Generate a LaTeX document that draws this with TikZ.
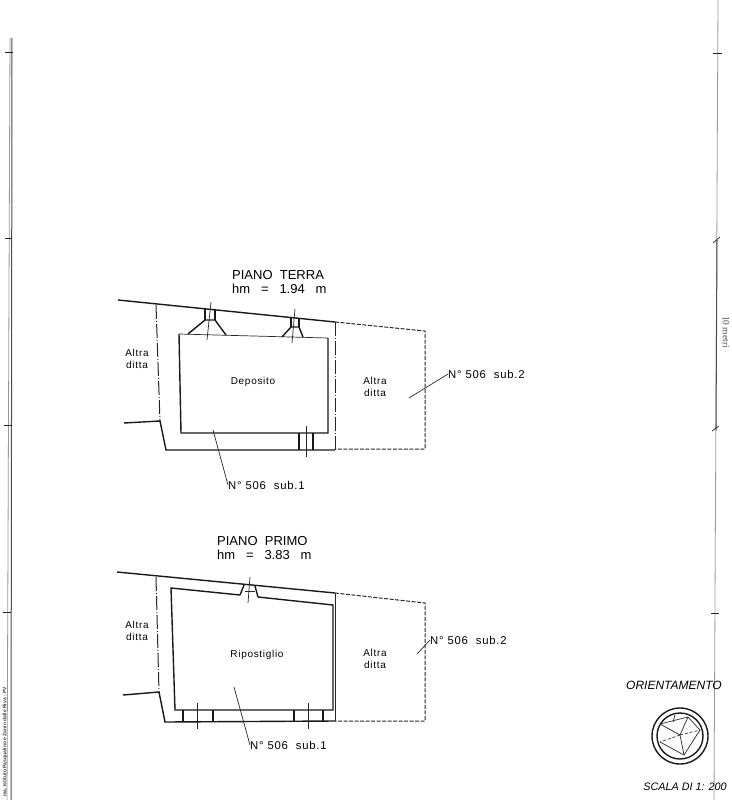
\documentclass[tikz,border=0pt]{standalone}
\usepackage{fontspec}
\setmainfont{Liberation Sans}
\newfontfamily\planfont[LetterSpace=7]{Liberation Sans}
\newfontfamily\metrifont{Liberation Serif}
\tikzset{
  wall/.style={line width=1.4pt,black!90},
  thin/.style={line width=0.7pt,black!85},
  dashdot/.style={line width=1pt,black!85,dash pattern=on 14pt off 2pt on 1pt off 2pt},
  limit/.style={line width=1pt,black!85,dash pattern=on 4pt off 1.5pt},
  sheet/.style={line width=1pt,black!70},
  sheetpale/.style={line width=0.8pt,black!40},
  lbl/.style={font=\planfont\fontsize{10pt}{11.5pt}\selectfont,align=center,inner sep=0pt},
  num/.style={font=\planfont\fontsize{11.3pt}{12pt}\selectfont,inner sep=0pt,anchor=west},
  title/.style={font=\fontsize{13pt}{13pt}\selectfont,inner sep=0pt,anchor=west},
  side/.style={font=\itshape\fontsize{12pt}{12pt}\selectfont,inner sep=0pt}
}
\begin{document}
\begin{tikzpicture}[x=1pt,y=-1pt]
  \useasboundingbox (0,0) rectangle (731,800);

  % sheet edges
  \draw[sheet] (12,38) -- (11,800);
  \draw[sheetpale] (10,38) -- (7,800);
  \draw[thin] (5,52) -- (13,52);
  \draw[thin] (5,238) -- (12,238);
  \draw[thin] (4,425) -- (12,425);
  \draw[thin] (3,612) -- (11,612);
  \draw[sheetpale] (718,0) -- (714,800);
  \draw[sheet] (717,240) -- (716,430);
  \draw[thin] (713,53) -- (722,53);
  \draw[thin] (713,243) -- (720,237);
  \draw[thin] (712,431) -- (719,426);
  \draw[thin] (711,613) -- (719,613);

  % piano terra
  \node[title] at (232,275) {PIANO\ \ TERRA};
  \node[title] at (232,289) {hm\ \ \ =\ \ \ 1.94\ \ \ m};
  \draw[wall] (118,300) -- (335,322);
  \draw[limit] (335,322) -- (425,331) -- (425,449) -- (335,449);
  \draw[dashdot] (156,305) -- (160,422);
  \draw[dashdot] (335,322) -- (335,450);
  \draw[wall] (124,423) -- (160,421) -- (166,450) -- (335,450);
  \draw[wall] (179,334) -- (181,433) -- (328,433) -- (328,338);
  \draw[thin] (179,334) -- (328,338);
  % windows
  \draw[wall] (188,334) -- (205,320) -- (215,320) -- (226,335);
  \draw[wall] (205,309) -- (205,320) (215,310) -- (215,320);
  \draw[thin] (211,302) -- (207,340);
  \draw[wall] (282,337) -- (291,327) -- (299,327) -- (303,337);
  \draw[wall] (291,317) -- (291,327) (299,318) -- (299,327);
  \draw[thin] (295,309) -- (292,343);
  % door
  \draw[wall] (299,433) -- (299,450) (313,433) -- (313,450);
  \draw[thin] (306,426) -- (306,457);
  \node[lbl] at (137,359) {Altra\\ditta};
  \node[lbl] at (253,382) {Deposito};
  \node[lbl] at (375,387) {Altra\\ditta};
  \node[num] (subA) at (228,485) {N° 506\ \ sub.1};
  \node[num] (subB) at (448,374) {N° 506\ \ sub.2};
  \coordinate (subAend) at (213,430);
  \coordinate (subBend) at (409,398);
  \draw[thin] (subAend) -- (subA.west);
  \draw[thin] (subBend) -- (subB.west);

  % piano primo
  \node[title] at (217,541) {PIANO\ \ PRIMO};
  \node[title] at (217,555) {hm\ \ \ =\ \ \ 3.83\ \ \ m};
  \draw[wall] (117,572) -- (335,593);
  \draw[limit] (335,593) -- (425,603) -- (425,721) -- (335,721);
  \draw[dashdot] (156,577) -- (159,692);
  \draw[wall] (123,695) -- (159,692) -- (165,722) -- (335,721);
  \draw[thin] (335,593) -- (335,721);
  \draw[wall] (240,595) -- (171,588) -- (175,710) -- (333,710) -- (333,605) -- (258,597);
  \draw[wall] (244,585) -- (240,595) (255,586) -- (258,597);
  \draw[thin] (245,591) -- (255,591);
  \draw[thin] (250,577) -- (248,603);
  \draw[wall] (183,710) -- (183,722) (213,710) -- (213,722) (294,710) -- (294,722) (323,710) -- (323,722);
  \draw[thin] (197,703) -- (197,729) (308,703) -- (308,729);
  \node[lbl] at (137,631) {Altra\\ditta};
  \node[lbl] at (257,655) {Ripostiglio};
  \node[lbl] at (375,659) {Altra\\ditta};
  \node[num] (subC) at (250,745) {N° 506\ \ sub.1};
  \node[num] (subD) at (430,640) {N° 506\ \ sub.2};
  \coordinate (subCend) at (234,687);
  \coordinate (subDend) at (417,654);
  \draw[thin] (subCend) -- (subC.west);
  \draw[thin] (subDend) -- (subD.west);

  % orientamento
  \node[side] at (674,685) {ORIENTAMENTO};
  \draw[wall] (680,736) circle (28);
  \draw[wall] (680,736) circle (23);
  \draw[thin] (660,724) -- (688,717) -- (700,730) -- (684,755) -- (660,742);
  \draw[thin] (660,724) -- (680,735) -- (688,717) (680,735) -- (684,755);
  \draw[thin] (675,715) -- (673,722);
  \draw[thin,densely dashed] (680,735) -- (660,742) (680,735) -- (700,730);
  \node[side,font=\itshape\fontsize{10.8pt}{11pt}\selectfont] at (685,787) {SCALA DI 1: 200};

  % margin notes
  \node[rotate=-90,font=\metrifont\fontsize{9.5pt}{10pt}\selectfont,inner sep=0pt,black!70] at (726,332) {10 metri};
  \node[rotate=90,font=\bfseries\fontsize{5pt}{5pt}\selectfont,inner sep=0pt,black!75] at (5,742) {ma. Istituto Pasqualino e Zanin dalle Riva - PV};
\end{tikzpicture}
\end{document}
